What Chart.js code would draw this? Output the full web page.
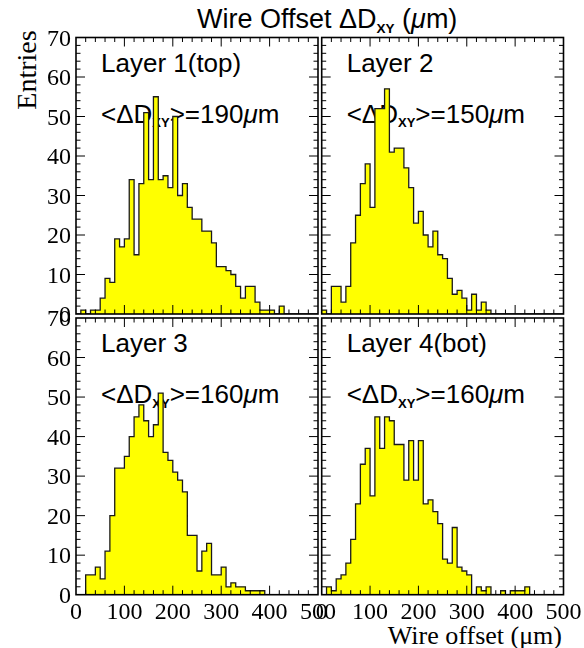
<!DOCTYPE html>
<html>
<head>
<meta charset="utf-8">
<title>Wire Offset</title>
<script src="https://cdn.jsdelivr.net/npm/chart.js@4.4.0/dist/chart.umd.min.js"></script>
<style>
  html, body { margin: 0; padding: 0; background: #fff; }
  #wrap { position: relative; width: 584px; height: 648px; overflow: hidden; }
  #wrap canvas { position: absolute; left: 0; top: 0; z-index: 1; }
  .t { position: absolute; white-space: nowrap; line-height: 1; z-index: 0; color: #000; }
  .sans { font-family: "Liberation Sans", Arial, sans-serif; }
  .serif { font-family: "Liberation Serif", "Times New Roman", serif; }
  .sub { font-size: 0.5em; font-weight: bold; position: relative; top: 0.35em; }
</style>
</head>
<body>
<div id="wrap">
  <div class="t sans" style="left:197px; top:6px; font-size:27px;">Wire Offset &Delta;D<span class="sub">XY</span> (<i>&mu;</i>m)</div>
  <div class="t serif" style="left:27px; top:70px; font-size:28px; transform: translate(-50%, -50%) rotate(-90deg);">Entries</div>
  <div class="t serif" style="right:22px; top:623px; font-size:26px;">Wire offset (&mu;m)</div>
</div>

<script>
// 10 um bins from 0 to 500 um, entries per bin
const binWidth = 10;
const layer1 = [0, 1, 0, 1, 1, 4, 9, 8, 19, 17,
                19, 34, 15, 33, 51, 34, 55, 34, 35, 32,
                50, 30, 33, 27, 24, 24, 21, 21, 18, 12,
                12, 11, 10, 7, 4, 7, 7, 3, 1, 1,
                1, 0, 2, 0, 0, 0, 0, 0, 0, 0];
const layer2 = [1, 0, 7, 7, 3, 7, 18, 25, 33, 38,
                27, 52, 52, 57, 41, 42, 42, 37, 32, 23,
                26, 20, 17, 21, 15, 14, 9, 5, 6, 4,
                1, 5, 1, 3, 1, 0, 0, 0, 0, 0,
                0, 0, 0, 0, 0, 0, 0, 0, 0, 0];
const layer3 = [0, 0, 5, 5, 7, 4, 11, 20, 32, 32,
                35, 40, 45, 48, 44, 40, 43, 51, 36, 34,
                31, 29, 26, 15, 15, 6, 11, 13, 5, 5,
                7, 2, 3, 2, 2, 1, 1, 1, 1, 0,
                0, 0, 0, 0, 0, 0, 0, 0, 0, 0];
const layer4 = [0, 2, 1, 4, 5, 8, 14, 23, 33, 37,
                25, 45, 37, 45, 44, 38, 38, 29, 39, 29,
                39, 23, 24, 21, 18, 9, 8, 17, 7, 6,
                5, 0, 2, 1, 2, 0, 0, 1, 0, 1,
                1, 1, 2, 0, 0, 0, 0, 0, 0, 0];

const panelNames = ['Layer 1(top)', 'Layer 2', 'Layer 3', 'Layer 4(bot)'];
const meanOffsets = [190, 150, 160, 160];
const xTickLabels = [0, 100, 200, 300, 400, 500];
const yTickLabels = [0, 10, 20, 30, 40, 50, 60, 70];
const xMinorStep = 20;
const yMinorStep = 2;

// panel boxes in page pixels: left, top, right, bottom
const W = 584, H = 648;
const panels = [
    { data: layer1, box: [76, 37.5, 318, 314], showX: false, showY: true },
    { data: layer2, box: [321.7, 37.5, 563.5, 314], showX: false, showY: false },
    { data: layer3, box: [76, 318, 318, 594.7], showX: true, showY: true },
    { data: layer4, box: [321.7, 318, 563.5, 594.7], showX: true, showY: false }
];

// frame, inward ticks on all four sides, and tick labels
const frameTicks = {
    id: 'frameTicks',
    afterDatasetsDraw(chart, args, opts) {
        const { ctx, chartArea: a } = chart;
        const x = chart.scales.x, y = chart.scales.y;
        const xMax = xTickLabels[xTickLabels.length - 1];
        const yMax = yTickLabels[yTickLabels.length - 1];
        ctx.save();
        ctx.strokeStyle = '#000';
        ctx.lineWidth = 1;
        ctx.beginPath();
        for (let v = xMinorStep; v < xMax; v += xMinorStep) {
            const len = xTickLabels.includes(v) ? 9 : 4.5;
            const px = x.getPixelForValue(v);
            ctx.moveTo(px, a.bottom); ctx.lineTo(px, a.bottom - len);
            ctx.moveTo(px, a.top); ctx.lineTo(px, a.top + len);
        }
        for (let v = yMinorStep; v < yMax; v += yMinorStep) {
            const len = yTickLabels.includes(v) ? 9 : 4.5;
            const py = y.getPixelForValue(v);
            ctx.moveTo(a.left, py); ctx.lineTo(a.left + len, py);
            ctx.moveTo(a.right, py); ctx.lineTo(a.right - len, py);
        }
        ctx.stroke();
        ctx.lineWidth = 1.6;
        ctx.strokeRect(a.left, a.top, a.right - a.left, a.bottom - a.top);

        ctx.fillStyle = '#000';
        ctx.font = '24px "Liberation Serif", "Times New Roman", serif';
        ctx.textBaseline = 'alphabetic';
        if (opts.showY) {
            ctx.textAlign = 'right';
            yTickLabels.forEach(v => {
                ctx.fillText(String(v), a.left - 5, y.getPixelForValue(v) + 8);
            });
        }
        if (opts.showX) {
            ctx.textAlign = 'center';
            xTickLabels.forEach(v => {
                ctx.fillText(String(v), x.getPixelForValue(v), a.bottom + 24);
            });
        }
        ctx.restore();
    }
};

const wrap = document.getElementById('wrap');

panels.forEach((p, i) => {
    const [l, t, r, b] = p.box;

    // panel labels sit under the canvas, so the bars cover them like in the original
    const name = document.createElement('div');
    name.className = 't sans';
    name.style.cssText = 'left:' + (l + 25) + 'px; top:' + (t + 12) + 'px; font-size:26px;';
    name.textContent = panelNames[i];
    wrap.appendChild(name);

    const mean = document.createElement('div');
    mean.className = 't sans';
    mean.style.cssText = 'left:' + (l + 25) + 'px; top:' + (t + 63) + 'px; font-size:26px;';
    mean.innerHTML = '&lt;&Delta;D<span class="sub">XY</span>&gt;=' + meanOffsets[i] + '<i>&mu;</i>m';
    wrap.appendChild(mean);

    const canvas = document.createElement('canvas');
    canvas.width = W;
    canvas.height = H;
    wrap.appendChild(canvas);

    // step outline: each point is a bin's low edge, closed back to zero at 500
    const points = p.data.map((v, k) => ({ x: k * binWidth, y: v }));
    points.push({ x: p.data.length * binWidth, y: 0 });

    new Chart(canvas, {
        type: 'line',
        data: {
            datasets: [{
                data: points,
                stepped: true,
                fill: 'origin',
                backgroundColor: '#ffff00',
                borderColor: '#1a1a1a',
                borderWidth: 1.3,
                pointRadius: 0,
                tension: 0
            }]
        },
        options: {
            responsive: false,
            animation: false,
            events: [],
            layout: { padding: { left: l, top: t, right: W - r, bottom: H - b } },
            plugins: {
                legend: { display: false },
                tooltip: { enabled: false },
                frameTicks: { showX: p.showX, showY: p.showY }
            },
            scales: {
                x: { type: 'linear', min: 0, max: 500, display: false },
                y: { min: 0, max: 70, display: false }
            }
        },
        plugins: [frameTicks]
    });
});
</script>
</body>
</html>
